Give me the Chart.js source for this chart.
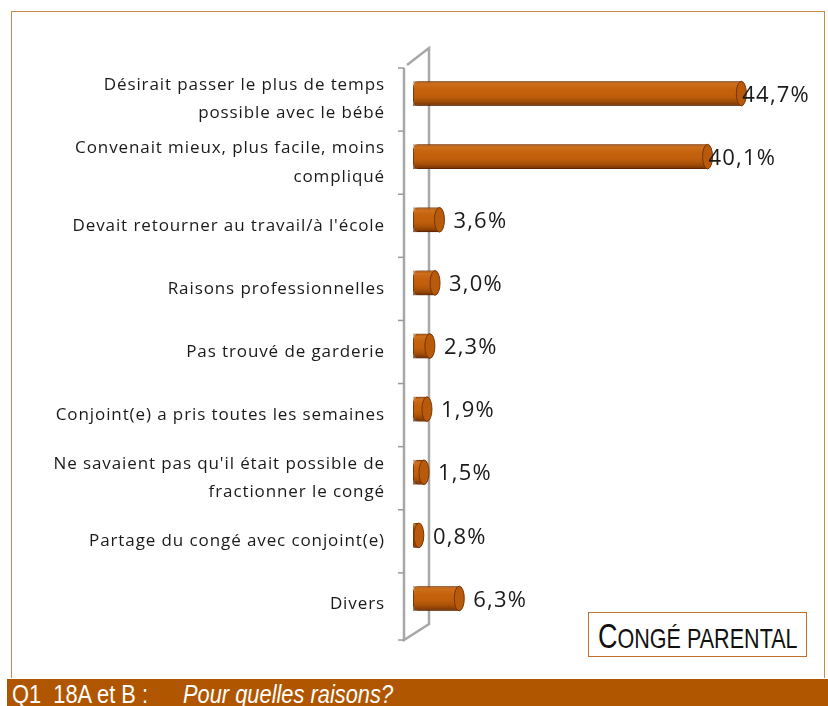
<!DOCTYPE html>
<html><head><meta charset="utf-8">
<script src="https://cdn.jsdelivr.net/npm/chart.js@4.4.1/dist/chart.umd.min.js"></script>
<style>
html,body{margin:0;padding:0;background:#fff;}
#wrap{position:relative;width:828px;height:706px;overflow:hidden;}
#frame{position:absolute;left:11px;top:11px;width:814px;height:667px;border:1px solid #c98a4a;border-bottom:none;box-sizing:border-box;}
#c{position:absolute;left:0;top:0;}
#box{position:absolute;left:588px;top:612px;width:219px;height:45px;border:1px solid #c07030;box-sizing:border-box;background:#fff;overflow:hidden;}
#box .t{position:absolute;left:9px;top:4px;white-space:pre;font-family:"Liberation Sans",sans-serif;color:#111;transform:scaleX(0.77);transform-origin:0 0;line-height:38px;}
#foot{position:absolute;left:7px;top:679px;width:821px;height:27px;background:#b05600;overflow:hidden;color:#fff;
 font-family:"Liberation Sans",sans-serif;font-size:26px;line-height:30px;white-space:pre;}
#foot span{position:absolute;top:0px;transform:scaleX(0.84);transform-origin:0 0;}
</style></head>
<body><div id="wrap">
<div id="frame"></div>
<canvas id="c" width="828" height="706"></canvas>
<div id="box"><div class="t"><span style="font-size:35px">C</span><span style="font-size:28px">ONGÉ PARENTAL</span></div></div>
<div id="foot"><span style="left:5px">Q1  18A et B :</span><span style="left:176px;font-style:italic">Pour quelles raisons?</span></div>
</div>
<script>
const categories = [
  ["Désirait passer le plus de temps","possible avec le bébé"],
  ["Convenait mieux, plus facile, moins","compliqué"],
  "Devait retourner au travail/à l'école",
  "Raisons professionnelles",
  "Pas trouvé de garderie",
  "Conjoint(e) a pris toutes les semaines",
  ["Ne savaient pas qu'il était possible de","fractionner le congé"],
  "Partage du congé avec conjoint(e)",
  "Divers"
];
const values = [44.7, 40.1, 3.6, 3.0, 2.3, 1.9, 1.5, 0.8, 6.3];
const valueLabels = ["44,7%","40,1%","3,6%","3,0%","2,3%","1,9%","1,5%","0,8%","6,3%"];

const BAR_SHIFT = -6;
const wallPlugin = {
  id:'wall',
  beforeDraw(chart){ chart.ctx.letterSpacing = '0.9px'; },
  beforeDatasetsDraw(chart){
    const {ctx, chartArea:a} = chart;
    const fx = a.left - 9, bx = a.left + 16;
    ctx.save();
    ctx.strokeStyle = '#a8a8a8'; ctx.lineWidth = 2.5;
    ctx.beginPath();
    ctx.moveTo(fx, a.top); ctx.lineTo(fx, a.bottom + 4);
    ctx.lineTo(bx, a.bottom - 12); ctx.lineTo(bx, a.top - 20);
    ctx.lineTo(fx + 3, a.top - 3);
    ctx.stroke();
    ctx.strokeStyle = '#9a9a9a'; ctx.lineWidth = 1.5;
    const n = categories.length;
    for (let i = 0; i <= n; i++) {
      const yy = a.top + (a.bottom - a.top) * i / n + (i===n?4:0);
      ctx.beginPath(); ctx.moveTo(fx - 6, yy); ctx.lineTo(fx, yy); ctx.stroke();
    }
    ctx.restore();
    ctx.save();
    ctx.translate(0, BAR_SHIFT);
  },
  afterDatasetsDraw(chart){
    const ctx = chart.ctx;
    const meta = chart.getDatasetMeta(0);
    meta.data.forEach((bar, i) => {
      const top = bar.y - bar.height/2, h = bar.height;
      const left = bar.base, right = bar.x;
      const g = ctx.createLinearGradient(0, top, 0, top + h);
      g.addColorStop(0, 'rgba(120,50,0,0.55)');
      g.addColorStop(0.12, 'rgba(230,140,60,0.35)');
      g.addColorStop(0.45, 'rgba(200,100,20,0)');
      g.addColorStop(0.8, 'rgba(110,45,0,0.35)');
      g.addColorStop(1, 'rgba(80,30,0,0.75)');
      ctx.fillStyle = g;
      ctx.fillRect(left, top, right - left, h);
      const rx = Math.min(5, (right-left)/2 + 2);
      ctx.beginPath();
      ctx.ellipse(right, bar.y, rx, h/2, 0, 0, Math.PI*2);
      ctx.fillStyle = '#b85a0c'; ctx.fill();
      ctx.strokeStyle = '#7a3500'; ctx.lineWidth = 1; ctx.stroke();
    });
    ctx.restore();
    ctx.save();
    ctx.fillStyle = '#1a1a1a';
    ctx.font = '22px "Open Sans", sans-serif';
    ctx.letterSpacing = '1.2px';
    ctx.textBaseline = 'middle';
    meta.data.forEach((bar, i) => {
      ctx.fillText(valueLabels[i], bar.x + (i<2?1:14), bar.y + BAR_SHIFT + 2);
    });
    ctx.restore();
  },
  afterDraw(chart){ chart.ctx.letterSpacing = '0px'; }
};

new Chart(document.getElementById('c'), {
  type:'bar',
  data:{ labels: categories, datasets:[{ data: values, backgroundColor:'#c2600c', borderColor:'#7a3500', borderWidth:1, borderSkipped:false,
     categoryPercentage:1, barPercentage:0.39, borderRadius:{topLeft:5,bottomLeft:5,topRight:0,bottomRight:0} }]},
  options:{
    indexAxis:'y', responsive:false, animation:false, maintainAspectRatio:false,
    layout:{ padding:{ left:0, right:11, top:68, bottom:70 } },
    plugins:{ legend:{display:false}, tooltip:{enabled:false} },
    scales:{
      x:{ display:false, min:0, max:55 },
      y:{ grid:{display:false, drawTicks:false}, border:{display:false},
          ticks:{ color:'#1a1a1a', padding:28, font:{ family:'"Open Sans", sans-serif', size:17, lineHeight:1.65 } },
          afterFit(s){ s.width = 413; } }
    }
  },
  plugins:[wallPlugin]
});
</script>
</body></html>
